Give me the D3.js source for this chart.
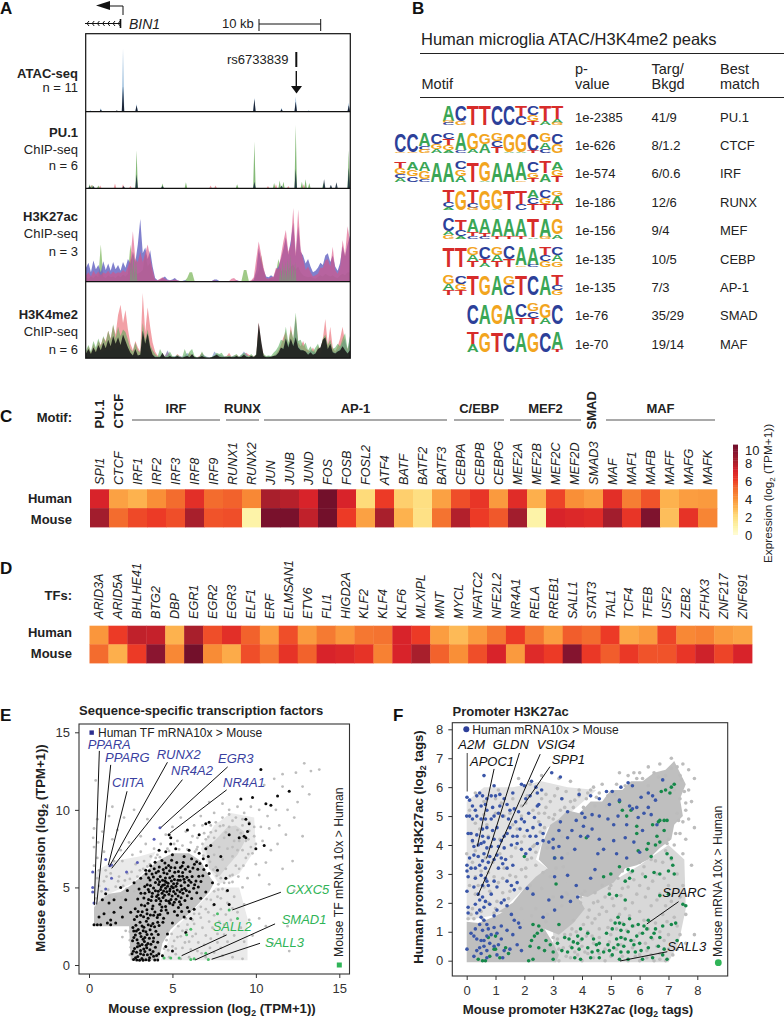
<!DOCTYPE html>
<html lang="en">
<head>
<meta charset="UTF-8" />
<title>Microglia epigenomics panels</title>
<script src="https://unpkg.com/d3@7/dist/d3.min.js"></script>
<style>
  body { margin: 0; background: #fff; }
  svg { display: block; font-family: "Liberation Sans", Arial, sans-serif; fill: #222; }
  .axis text { font-size: 13px; fill: #333; }
  .axis line { stroke: #333; }
  .axis path { display: none; }
</style>
</head>
<body>
<svg id="fig" width="784" height="1020"></svg>
<script>
// ---- panel A: peak lists are [kb, height], wide tracks sampled every 0.4 kb
const atacBlue = [[0.7,2],[2.4,5],[6,100],[8.2,12],[27.3,22],[31.7,6],[34,24],[36.1,2],[42.6,14]];
const atacBlack = [[2.4,3],[5,2],[6,40],[8.2,10],[27.3,20],[31.7,4],[34,16],[42.6,10]];
const pu1Green = [[0.6,6],[1,5],[2,4],[8.2,60],[12.4,7],[16.2,9],[24.5,6],[27.3,74],[30.5,8],[31.4,12],[32,10],[34,100],[35,10],[35.6,14],[36.2,8],[38.5,8],[42.6,60]];
const pu1Red = [[0.9,5],[2.3,4],[4.7,7],[6,6],[7.2,3],[20.2,4],[21,4],[29.5,3],[30.8,6],[32.8,3],[35.3,6]];
const pu1Dark = [[0.6,3],[1.2,3],[6.1,3],[8.2,22],[12.4,3],[27.3,10],[31.7,4],[34,30],[38.6,14],[39.7,5],[40.6,9],[42.6,32]];
const k27Blue = [18,25,12,28,16,22,12,27,15,24,14,26,16,22,14,26,18,30,24,40,26,50,85,38,46,30,42,20,4,1,2,4,6,2,1,2,4,1,0,0,1,0,0,0,0,0,0,0,0,0,0,0,2,2,0,0,0,0,0,0,0,1,0,0,0,0,0,0,2,15,45,28,15,6,5,8,5,15,20,30,44,60,36,55,80,34,75,40,35,24,30,20,12,14,18,25,22,35,38,26,35,20,14,25,48,34,50,62];
const k27Red = [8,12,6,14,9,13,8,12,10,14,9,13,10,12,11,15,12,20,30,68,30,26,40,26,38,50,32,15,2,1,3,5,3,1,1,1,2,1,0,0,0,0,0,0,0,0,0,0,0,0,0,0,1,0,0,0,0,0,0,3,4,1,0,0,0,0,0,1,5,30,54,36,18,4,3,5,6,18,16,35,54,70,40,50,100,38,98,44,30,15,20,12,6,8,10,18,18,28,30,20,47,15,10,20,56,36,75,55];
const k27Green = [5,3,6,4,8,5,50,6,4,8,5,6,4,8,5,9,6,10,50,14,12,10,12,15,38,20,25,8,1,0,1,2,1,0,0,0,1,0,0,0,0,4,12,12,0,0,0,0,0,0,0,0,0,0,0,0,0,0,0,0,0,0,0,0,15,15,0,0,1,8,14,35,12,3,2,4,3,12,30,14,15,14,15,20,22,16,20,12,8,6,5,6,4,3,6,8,6,10,8,6,8,5,4,8,10,8,12,12];
const k27Gray = [[7.3,30],[7.7,40],[8.1,32],[31.5,18],[31.9,28],[32.3,26],[32.7,30],[33.1,36],[33.5,24],[33.9,26]];
const me2Red = [8,18,8,22,12,26,20,32,26,42,30,50,36,66,82,54,74,44,22,12,26,16,10,100,40,78,48,24,10,4,2,2,3,10,5,2,1,6,3,1,2,3,8,4,2,1,3,8,2,1,0,1,2,6,4,3,2,3,8,2,3,5,2,4,6,8,5,4,3,4,55,20,5,2,3,2,4,6,12,20,32,40,18,50,26,64,24,18,26,15,12,10,16,8,18,14,30,60,20,48,16,10,18,30,48,24,14,22];
const me2Green = [12,20,10,26,16,30,18,34,24,42,28,52,30,48,34,44,40,28,14,10,24,12,8,54,28,44,20,12,6,2,14,6,2,4,10,3,2,5,2,1,14,4,10,14,3,1,2,10,3,1,0,2,4,8,6,8,2,3,4,2,4,6,2,5,8,4,3,6,2,6,44,14,6,3,4,3,8,12,18,28,26,48,24,44,30,70,26,28,18,24,12,18,10,16,22,12,30,36,20,28,14,16,22,18,30,38,14,34];
const me2Blue = [6,8,5,10,8,12,8,10,12,14,10,16,12,18,14,12,16,10,6,4,6,4,3,16,12,10,6,4,3,2,3,4,3,12,5,2,3,4,3,2,4,8,3,3,2,1,2,6,4,2,1,1,10,6,5,4,3,2,3,2,4,3,2,5,10,6,2,4,2,3,30,8,3,2,3,2,3,5,8,14,16,30,20,28,20,60,18,14,12,10,8,12,10,8,8,6,14,20,12,14,10,8,12,16,24,30,10,34];
const me2Black = [7,14,6,16,9,20,12,24,15,28,18,34,22,32,20,36,26,16,8,4,14,4,5,42,22,38,16,5,1,1,1,8,1,1,3,1,1,3,1,0,2,3,1,6,1,0,1,3,1,0,0,1,3,5,2,1,1,1,2,1,1,3,1,2,5,2,1,3,1,5,54,26,3,1,1,2,3,4,8,16,14,30,16,30,18,32,16,12,12,10,5,9,5,7,14,16,28,32,14,22,9,7,10,12,18,12,7,12];

// ---- panel B: each column lists letter + share, top to bottom
const motifNames = ["PU.1","CTCF","IRF","RUNX","MEF","CEBP","AP-1","SMAD","MAF"];
const motifP = ["1e-2385","1e-626","1e-574","1e-186","1e-156","1e-135","1e-135","1e-76","1e-70"];
const motifTarg = ["41/9","8/1.2","6/0.6","12/6","9/4","10/5","7/3","35/29","19/14"];
const logos = [
  ["A78 G12 C10","C80 G20","T100","T100","C100","C100","T55 C45","C48 G30 T22","T78 A22","T68 A22 G10"],
  ["C92 G8","C92 G8","A62 C20 G18","C52 G28 A20","C30 T30 G25 A15","A85 C15","G82 A18","G55 A45","G40 C30 T30","G92 A8","G92 A8","C88 T12","G45 A35 C20","C55 G45"],
  ["T32 G30 C18 A20","A40 G32 C28","A48 G40 C12","A100","A100","C38 G32 A30","T100","G95 A5","A98","A98","A92 G8","C52 G28 T20","T58 A42","A40 G30 T30"],
  ["T60 C25 A15","G100","T62 C25 G13","G100","G95 A5","T100","T68 C32","A40 C30 T30","C38 G32 T30","G28 A42 T30"],
  ["C62 A22 G16","T55 C30 A15","A68 T20 C12","A72 T18 C10","A88 T12","A88 T12","A88 T12","T92 A8","A90 G10","G78 A22"],
  ["T100","T100","G38 A30 T32","C60 T22 A18","G40 A30 T30","C62 T38","A92 G8","A88 C12","T40 C30 G30","C40 A32 G28"],
  ["G45 A30 T25","C42 G32 T26","T100","G100","A98","G48 C52","T100","C100","A95","T50 C25 G25"],
  ["C100","A100","G100","A95","C65 T35","G38 C32 T30","G70 A30","C95"],
  ["T62 A38","G100","T100","C100","A100","G100","C100","A85 T15"]
];

// ---- panel C / D heatmaps
const motifGenes = ["SPI1","CTCF","IRF1","IRF2","IRF3","IRF8","IRF9","RUNX1","RUNX2","JUN","JUNB","JUND","FOS","FOSB","FOSL2","ATF4","BATF","BATF2","BATF3","CEBPA","CEBPB","CEBPG","MEF2A","MEF2B","MEF2C","MEF2D","SMAD3","MAF","MAF1","MAFB","MAFF","MAFG","MAFK"];
const motifHuman = [7,3.5,3,4,5,6.5,5,5.2,4.2,8,7.7,7,9.8,7,2,6,2.3,1.8,3.5,5.6,6.2,3.7,6.6,3.1,5.8,4,3.6,6.5,4.5,5.5,3,3.6,3.7];
const motifMouse = [8.2,5,5.7,6,5.6,8,5.5,5.6,0.8,9.6,9.6,7.5,9.8,6,3.5,8,3,1.7,4.8,7.8,6,5.4,8.2,0.8,7,6.8,6.6,8.2,6.2,9.4,2.7,6.3,4.3];
const tfGenes = ["ARID3A","ARID5A","BHLHE41","BTG2","DBP","EGR1","EGR2","EGR3","ELF1","ERF","ELMSAN1","ETV6","FLI1","HIGD2A","KLF2","KLF4","KLF6","MLXIPL","MNT","MYCL","NFATC2","NFE2L2","NR4A1","RELA","RREB1","SALL1","STAT3","TAL1","TCF4","TFEB","USF2","ZEB2","ZFHX3","ZNF217","ZNF691"];
const tfHuman = [3.8,6,7.5,7.4,3,8,5.6,6.5,5.2,3.6,5.6,3.7,4.6,3.8,4.7,4.8,7,6,3.6,2.8,3.7,4.7,6,4.7,3.6,5.3,5,6,3.3,3.7,5.8,4.2,4.4,3.7,3.4];
const tfMouse = [5,3.1,6,9,4.2,9.8,4.1,3.2,5.6,4.8,6.3,5.2,7,6.8,6.3,4.4,7,8,5.2,4,5.6,7,3.7,6.7,6,9.2,6.1,5.3,6.1,5.5,5.5,6.2,7.2,5.8,7];
const heatStops = [0,0.8,2,3,4,5,6,7,8,9,10];
const heatColors = ["#fffbd0","#fdf3a8","#fedb7a","#fdb24e","#f98f37","#f36c2e","#ec3a26","#d8232a","#a81f2c","#8a1530","#6d0f2a"];
const motifGroups = [["IRF",132,220],["RUNX",226,259],["AP-1",264,447],["C/EBP",454,504],["MEF2",510,581],["MAF",606,715]];

// ---- panel E points; clouds are outlines of the too-dense-to-count gray
const eCore = [[0.3,2.5],[2.4,2.5],[2.5,0.3],[4.2,0.3],[4.4,1.4],[4.9,2.3],[5.4,2.8],[6,3.3],[6.6,4],[7.2,4.7],[7.5,5.3],[7.1,5.9],[6.7,6.7],[6,7.2],[5,7.2],[4.1,6.7],[3.3,5.9],[2.6,5.2],[1.9,4.7],[1.2,4.6],[0.7,4.2],[0.3,3.7]];
const eLobe = [[7.2,6.2],[7.8,5.7],[8.4,6.5],[8.9,7.1],[9.3,7.9],[9.3,8.6],[8.8,9],[8.3,8.9],[7.7,8.2],[7,7.5]];
const eSparse = [
  [[4.3,0.3],[9.5,0.3],[9.5,3],[9,5],[7.6,5],[6.5,3.8],[5,2.2]],
  [[0.3,3.7],[0.3,6],[1.5,6.7],[3,7],[4,7.3],[3.3,6],[2.5,5.2],[1.2,4.6]],
  [[6.7,7.5],[7.5,9],[8.5,9.8],[9.9,9.5],[10,7.5],[9,5.9],[7.8,5.2],[7.2,6.2]]
];
const eGray = [[0.4,11.9],[0.5,9.4],[0.3,8.8],[0.25,8.2],[0.3,7.6],[0.55,7.9],[0.8,8.6],[1.2,9.6],[1.4,10.2],[1.7,8.7],[2.1,9.5],[2.7,10],[3.1,8.3],[3.5,9.4],[2.4,7.9],[1.9,7.4],[1.4,8.1],[0.9,7.3],[0.5,6.9],[0.3,6.4],[0.6,6.1],[1,6.1],[1.5,6.7],[2,6.7],[2.6,7.1],[3.1,7.3],[3.4,7.8],[3.9,7.5],[4.3,7.8],[4.6,8.4],[5,8.9],[5.5,9.5],[5.3,8],[5.8,8.6],[6.3,9],[6.7,9.6],[7.2,10.5],[7.5,9.8],[8,10.4],[8.4,10],[8.9,10.2],[9.3,9.8],[9.7,10.2],[10.2,10],[10.7,9.6],[10.5,11.6],[11.1,12],[11.6,12.3],[12.4,12.4],[12.9,13],[13.3,12.5],[13.8,12.6],[12.8,11.5],[13.2,11],[11.6,11.5],[11.2,10],[11.9,10],[12.3,9.5],[12.5,10.5],[11.4,9],[11.8,8.4],[10.8,8.8],[10.3,8.9],[10.4,8],[10.9,7.4],[11.3,7.8],[12.2,6.7],[12.8,8.3],[11.6,6.2],[10.6,6.6],[10,6.5],[10.2,5.8],[10.8,5.2],
[0.5,5.6],[0.9,5.4],[1.3,5.9],[1.8,5.7],[2.3,5.9],[2.8,6.5],[3.3,6.7],[3.7,7],[4.1,7.1],[4.7,7.5],[5.1,7.8],[5.6,7.7],[6.1,7.9],[6.5,8.2],[6.9,8.5],[7.3,9],[7.6,9.2],[8,9.5],[8.4,9.7],[8.8,9.5],[9.2,9.4],[9.6,9.2],[9.9,8.9],[9.9,8.3],[10,7.8],[9.8,7.2],[9.4,6.9],[9,6.2],[8.6,5.8],[8.4,5.3],[8,4.9],[7.7,4.4],[7.3,4.2],[7,3.6],[6.6,3.3],[6.2,2.9],[5.9,2.6],[5.6,2.2],[5.3,1.8],[5,1.2],[5.2,0.7],[5.6,1.1],[6,1.5],[6.4,2],[6.8,2.4],[7.2,2.8],[7.5,3.2],[7.9,3.6],[8.3,4],[8.7,4.4],[9.2,5],[9.5,5.6],[5.5,0.4],[6,0.5],[6.5,0.9],[6.9,1.3],[7.3,1.7],[7.7,2],[8.1,2.6],[8.5,2.9],[8.9,3.4],[9.3,3.9],[7,0.5],[7.5,0.8],[7.9,1.1],[8.3,1.5],[8.7,1.9],[9.1,2.4],[9.6,2.9],[8,0.6],[8.6,0.5],[9.2,0.4],[9.3,1.5],[9.8,1.9],[10.2,3],[10.6,2.5],[11,1.4],[12,0.9],[11.9,2.5],[12.3,4.8],[8.9,8.7],[8.4,8.9],[8.1,8.2],[8.7,8],[9.1,8.5],[9.4,8],[8.9,7.4],[8.3,7.5],[7.8,7.6],[7.5,7.1],[8,6.8],[8.6,7],[7.6,6.3],[8.2,6.2],[7.9,5.6],[7.1,7.6],[7.5,8.2],[7,8.1],[6.5,7.6],[6.2,8.3],[6.8,9],[3.2,4.4],[2.9,5.7],[1.6,4.4],[1.2,3.4],[2,1.8],[2.2,2.2],[3.6,0.5],[4.8,0.5],[4.1,1.8],[4.7,2.2],
[0.4,4.3],[0.75,4.75],[1.15,4.85],[1.6,5.05],[2.05,5.1],[2.45,5.55],[2.85,5.35],[3.25,6.2],[3.65,6.5],[4.25,6.95],[4.8,7.35],[5.4,7.45],[5.9,7.45],[6.35,7.3],[6.85,7.05],[7.25,6.65],[7.45,6.15],[7.65,5.75],[7.75,5.2],[7.5,4.75],[7.05,4.25],[6.7,3.75],[6.3,3.3],[5.8,3],[5.35,2.5],[4.95,2],[4.65,1.6],[4.5,1.05],[4.4,0.6],[4.75,0.95],[5.1,1.55],[5.5,1.85],[5.85,2.25],[6.3,2.65],[6.7,3.05],[7.15,3.4],[7.45,3.85],[7.9,4.3],[8.25,4.75],[8.6,5.35],[8.95,5.7],[9.25,6.4],[9.55,7.15],[9.7,7.6],[9.55,8.1],[9.6,8.65],[9.2,9],[8.6,9.3],[8.05,9],[7.6,8.65],[7.15,8.25],[6.8,7.8],[6.45,7.45],[1.25,4.4],[1.95,4.35],[2.25,4.9],[2.7,4.75],[3.05,5.25],[0.6,5.1],[1.05,5.7],[1.75,5.4],[2.15,5.45],[2.55,6],[3.05,6.1],[3.5,6.35],[4,6.9],[2.65,3.15],[2.45,1.6],[2.5,1.15],[2.45,0.65],[2.45,2.15],[7.75,4.85],[8.1,5.3],[8.45,5.75],[8.8,6.4],[9.2,7.4],[8.6,7.6],[9,8],[8.2,8.55],[7.85,8.95],[7.3,8.55],[5.2,1.05],[5.75,1.45],[6.2,1.85],[6.55,1.45],[7,1.9],[7.4,2.4],[7.8,2.8],[8.2,3.25],[8.6,3.65],[6.1,1],[6.75,0.75],[7.25,1.1],[7.7,1.45],[8.1,1.95]];
const eBlack = [[10.3,12.6],[12,11.2],[11.3,10.9],[10.6,10.4],[10.9,10.3],[9.8,10.8],[9.1,10.7],[10,7.5],[10.5,7.7],[9.4,8.2],[9.3,8.3],[9,8.2],[9.5,8.6],[9.6,9.1],[9.4,9.4],[8.4,8.4],[7.2,9.2],[6.6,8.4],[7,9.1],[5.9,8.7],[7.3,7.7],[7,7.5],[6.6,7.2],[6,7.4],[5.7,7],[5.2,7.5],[5,7.1],[4.8,8.4],[4.9,8.2],
[3.42,5.87],[3.91,6.21],[4.37,6.74],[4.12,5.53],[3.68,5.12],[4.83,6.08],[5.26,6.61],[4.58,5.61],[5.07,5.23],[5.61,5.96],[5.94,6.33],[4.29,4.87],[3.77,4.41],[4.66,4.72],[5.18,4.59],[5.73,5.34],[6.18,5.71],[6.52,6.18],[3.53,3.98],[4.02,4.16],[4.44,4.35],[4.91,4.23],[5.42,4.08],[5.89,4.46],[6.27,4.94],[6.71,5.38],[7.04,6.42],[4.71,5.08],[4.18,5.19],[3.86,5.67],[5.33,5.47],[5.01,5.72],[4.49,5.94],[5.52,5.11],[5.87,5.66],[6.41,5.41],[6.05,6.03],[4.77,6.42],[4.21,6.32],[5.48,6.28],[5.14,5.98],[4.63,5.33],[4.38,4.62],[3.98,4.79],[4.86,4.9],[5.29,4.83],[5.63,4.62],[6.02,4.72],[3.61,4.72],[3.29,4.32],[3.83,3.81],[4.24,3.92],[4.59,3.77],[5.03,3.89],[5.36,3.71],[3.14,3.87],[3.47,3.56],[3.95,3.42],[4.33,3.51],[4.72,3.35],[2.94,3.45],[3.27,3.11],[3.68,3.22],[4.09,3.06],[4.47,3.02],[2.72,2.93],[3.06,2.76],[3.44,2.82],[3.83,2.67],[4.2,2.55],[2.63,2.41],[2.95,2.29],[3.29,2.44],[3.66,2.28],[4.01,2.17],[2.78,1.94],[3.12,1.83],[3.48,1.96],[3.87,1.74],[2.61,1.56],[2.94,1.41],[3.32,1.52],[3.71,1.33],[4.12,1.46],[2.73,1.07],[3.09,0.93],[3.46,1.12],[3.84,0.87],[2.58,0.72],[2.92,0.55],[3.27,0.66],[3.63,0.47],[4.05,0.61],[2.67,0.35],[3.03,0.31],[3.41,0.34],[3.94,0.32],
[4.52,5.18],[4.94,5.41],[5.21,5.07],[4.41,5.47],[4.84,5.62],[5.41,5.72],[5.69,5.52],[3.98,5.31],[4.27,5.71],[4.68,5.88],[5.12,5.51],[4.33,5.02],[4.79,4.56],[5.07,4.74],[4.53,4.49],[4.14,4.53],[3.87,4.97],[4.45,6.15],[4.91,6.29],[5.36,6.02],[5.78,6.17],[6.23,6.25],[4.02,5.94],[3.66,5.48],[3.49,5.18],[5.57,4.86],[5.95,5.12],[6.33,5.17],[6.58,5.72],[5.73,4.93],[5.34,4.44],[4.98,4.44],[4.62,4.15],[4.19,4.29],[3.72,4.16],[4.84,3.98],[5.21,4.24],[4.37,3.74],[3.79,3.62],[3.57,4.22],[3.34,3.82],[4.14,3.23],[3.54,3.02],[3.19,3.44],[2.87,3.12],[2.81,2.56],[3.18,2.52],[3.55,2.59],[3.93,2.47],[3.41,2.14],[3.06,2.05],[2.69,1.77],[3.24,1.66],[3.62,1.72],[3.04,1.24],[3.53,1.38],[2.85,0.82],[3.35,0.87],[3.72,0.71],[2.79,0.47],[3.17,0.42],
[0.3,2.6],[0.5,2.6],[0.7,2.6],[1.1,2.7],[1.3,2.9],[1.6,2.7],[1.3,2.6],[0.6,3.1],[0.9,3.3],[1.5,3.4],[2,3.1],[1.9,3.7],[1.2,4],[0.8,4.2],[1,4.6],[1.5,4.2],[2.2,4.2],[2.5,3.4],[2.3,4.8],[2.7,5.3],[1.9,5],[3,4.9],[3.1,5.6],[3.7,6.4],[3.4,6.1],[4.2,7.4],[4.6,7.3],[4.9,7.8],
[5.5,3.9],[5.9,3.7],[6.3,3.6],[5.3,3.2],[5.7,3.1],[6.1,3],[7,4.7],[6.7,4.3],[7.4,5.3],[7.7,6.1],[7.2,5.9],[7.9,7],[8.2,5.6],[8.3,4.8],[5,2.7],[4.7,2],[5.8,2.1],[5,0.9],[4.6,1.2],[4.4,0.6],[7.5,3.9],[8.4,3.9],[6.85,6.85],[7.15,7],[6.45,6.65],[6.15,6.85],[5.65,6.6],[4.95,6.75],
[4.55,5.42],[4.74,5.27],[4.95,5.06],[4.42,5.14],[4.23,5.36],[5.28,5.26],[5.47,5.46],[5.05,4.98],[4.59,4.95],[4.15,4.76],[4.47,4.77],[4.84,4.77],[5.45,4.72],[5.83,4.8],[6.11,5.34],[5.99,5.47],[5.61,5.72],[5.15,6.27],[4.62,6.27],[4.16,6.04],[3.78,5.87],[3.57,5.63],[3.34,5.06],[3.55,4.87],[3.8,4.62],[4.05,4.41],[4.3,4.12],[4.78,4.11],[5.11,4.05],[5.52,4.33],[5.75,4.15],[6.15,4.28],[6.46,4.66],[6.55,5.02],[6.82,5.75],[6.88,6.15],[6.65,6.55],[6.32,6.5],[5.58,6.38],[4.55,6.58],[3.96,6.62],[3.62,6.08],[3.11,4.63],[2.92,4.25],[3.35,4.63],[3.48,3.3],[3.1,3.2],[2.77,3.62],[3.87,3.21],[4.25,3.26],[4.62,3.55],[5.12,3.45],[5.55,3.45],[6,3.45],[2.84,2.19],[3.25,2.2],[3.72,2.53],[4.12,2.76],[4.43,2.75],[2.68,2.19],[3.35,1.77],[3.75,1.98],[4.15,1.97],[2.88,1.62],[3.18,1.32],[3.43,1.28],[3.85,1.51],[2.9,1.18],[3.28,1.03],[3.65,0.98],[3.98,1.15],[2.66,0.88],[3.09,0.73],[3.5,0.66],[3.87,0.56],[4.18,0.73],[2.86,0.33],[3.24,0.3],[3.6,0.31],[4.12,0.33]];
const eBlue = [[0.16,14.98],[0.22,5],[0.22,4.7],[0.3,4],[0.22,6],[1,6.8],[1.25,6.4],[1.35,6.45],[1,4.9],[1.35,5.6],[2.25,6],[2.9,6.6],[3.9,8.1],[4.25,8.85]];
const eGreen = [[15,0],[8.4,3.55],[6.1,2.3],[5.85,1.95],[7,0.75],[4.5,0.45],[4.9,0.45],[5.4,0.45],[6.1,0.35],[6.3,0.4],[7.15,0.35],[7.7,3.3],[8.9,3]];
const eLeadersBlue = [[0.62,13.8,0.32,3.87],[1.3,12.9,0.46,3.9],[2.28,11.2,1.16,6.45],[4.7,13.07,1.22,6.35],[5.6,11.95,1.36,6.23],[8.31,12.77,4.31,8.86],[8.25,11.29,4.85,8.5]];
const eLeadersGreen = [[11.5,4.69,8.59,3.55],[8.25,1.94,5.55,0.6],[11.15,2.65,6.35,0.32],[10.25,1.4,7.35,0.37]];

// ---- panel F points, [mouse, human]
const fCores = [
  [[2.6,4],[2.9,4.7],[3.2,4.9],[3.5,5.2],[3.9,5.1],[4.3,5.5],[4.7,5.5],[5,5.9],[5.4,5.9],[5.7,6.2],[6.1,6.2],[6.5,6.5],[6.9,6.6],[7.2,6.9],[7.4,6.5],[7.6,6.1],[7.4,5.6],[7.5,5],[7.2,4.7],[7.1,4.2],[6.7,3.9],[6.3,3.5],[5.9,3.3],[5.5,3.2],[5.1,2.7],[4.7,2.5],[4.2,2.2],[3.7,2.3],[3.3,2.7],[2.9,3.1],[2.5,3.5]],
  [[0,-0.05],[0,1.35],[0.4,1.3],[0.9,1.5],[1.3,1.7],[1.8,1.5],[2.3,1.4],[2.7,1.1],[3,0.6],[3.2,0.2],[3.1,-0.05]],
  [[1.1,1.7],[1.6,2],[2,2.5],[2.4,2.9],[2.8,3.2],[3.3,2.9],[3.8,2.3],[4.1,1.8],[3.7,1.3],[3.2,0.9],[2.7,1.1],[2.1,1.4]]
];
const fSparseLow = [[3,-0.05],[3,1],[4,2.2],[5,2.7],[6,3.3],[7,4],[7.55,3.5],[7.6,1.8],[7.35,0.6],[7,-0.05]];
const fSparseLeft = [[0,1.4],[0,5.5],[0.6,6],[1.6,6],[2.6,6.2],[3.5,6],[4.5,5.9],[3.7,5.2],[2.8,4.6],[2.4,3.5],[2.8,3.2],[2,2.5],[1.1,1.6]];
const fGray = [[1.8,6.3],[2.2,6.1],[2.6,6.4],[3.2,6.3],[3.6,6.2],[3.9,5.9],[4.3,5.9],[4.7,6.1],[5.3,6.5],[5.6,6.4],[6,6.5],[6.3,6.7],[6.7,6.8],[7.1,7],[7.3,6.7],[7.5,6.8],[7.7,6.6],[7.9,6.3],[7.7,5.9],[7.6,5.2],[7.5,4.8],[7.4,4.4],[7.2,4],[7.5,3.7],[7.1,3.5],[6.8,3.4],[7.3,3],[6.6,3],[6.1,3],[5.8,2.8],[5.4,2.5],[5.9,2.3],[6.3,2.5],[6.7,2.3],[7,2.6],[7.4,2.2],[4.8,2.2],[4.4,2],[5.1,1.9],[5.5,1.8],[6,1.7],[6.4,1.9],[6.8,1.6],[7.2,1.5],[7.6,1.6],[4.2,1.5],[4.6,1.6],[5,1.4],[5.4,1.3],[5.8,1.2],[6.3,1.1],[6.7,1],[7,0.9],[7.4,0.9],[3.4,0.9],[3.8,1],[4.2,1],[4.6,1.1],[5,0.9],[5.4,0.8],[5.8,0.7],[6.2,0.6],[6.6,0.5],[7,0.4],[7.3,0.4],[3.2,0.4],[3.6,0.5],[4,0.5],[4.4,0.6],[4.8,0.4],[5.2,0.4],[5.6,0.3],[6,0.2],[6.4,0.2],[3.2,0],[3.6,0.1],[4,0],[4.4,0.1],[4.8,0],[5.6,0],[6,0],[6.5,0],[6.9,0],
[0.3,2.9],[0.2,4.1],[0.7,4.7],[1.1,5.9],[1,5.1],[1.6,5.6],[1.9,5],[2,4.3],[2.3,5.2],[2.6,5.6],[2.9,5.5],[1.4,4.4],[1.7,3.9],[2.1,3.5],[1.3,3.2],[0.9,3.4],[0.5,3.1],[0.3,2.3],[0.2,1.8],[1.1,2.7],[1.7,2.9],[2.2,2.6],[2.6,2.5],[3,2.2],[3.3,1.9],[3.7,1.4],[2.4,1.8],[2.8,1.6],[1.9,1.8],[3.2,1.2],[3.6,0.9],[4.1,2.4],[2.8,3.9],[2.5,4.8],[3.3,5.6],[3.9,5.7],[4.6,5.8],[5.2,6.1],[5.8,6.5],[6.5,6.5],[0.5,1.7],[1,1.8],[1.4,1.9],[2.7,0.9],[3,0.8],[4.1,0.3],[7.2,5.9],[7.4,5.6],[7.8,5.5],[7.3,5.1],[7.7,4.9],[7,4.2],[6.9,3.8],[6.4,3.5],[6,3.4],[5.4,3.1],[5,2.6],[4.7,2.6],[4,2.3],[3.5,2.3],[2.9,2.9],[2.4,3.3],[7.5,2.6],[7.8,3.3],[7.6,4.2],[7.9,4.6],[6.5,4],[6.9,1.9],[7.3,1.2],[7.6,0.6],[7.9,0.9],[3.5,3.7],[3.3,4.3],[3.6,5.5],[4.2,5.8],[4.9,5.7],[4.4,6],[6.9,6.4],[7.4,6.4],[6.1,6.3],[5.7,6],[0.1,2.6],[0,3.7],[0.4,3.6],[0.8,2.4],[1.5,2.4],[0.1,4.4],[0.1,5.2],[0.3,5.8],[0.6,5.5],[1,5.6],[1.3,5],[1.6,4.7],[2.3,4.6],[2.1,5.7],[3,4.9],[2.7,5.1],
[3.25,5.2],[2.85,4.95],[2.55,4.45],[2.35,4],[2.25,3.55],[2.65,3.05],[3.1,3.2],[3.45,2.35],[3.95,2.2],[4.45,2.35],[4.95,2.5],[5.25,2.85],[5.7,3.05],[6.15,3.25],[6.55,3.45],[6.95,4.05],[7.25,4.4],[7.35,4.85],[7.6,5.45],[7.55,5.85],[7.45,6.25],[7.1,6.65],[6.65,6.35],[6.3,6.05],[5.9,6.3],[5.5,6.05],[5.15,5.75],[4.85,5.35],[4.45,5.35],[4.05,5.3],[3.7,5.3],[3.4,5.3],[3.05,5.05],[2.7,4.6],[2.4,3.75],[3.35,3.25],[2.05,2.9],[1.85,2.5],[1.45,2.15],[1.25,2.35],[1.05,2.05],[0.75,2],[0.55,1.45],[0.25,1.45],[0.05,1.45],[0.15,1.6],[0.95,1.65],[2.25,1.55],[2.75,1.35],[3.15,0.75],[3.35,0.45],[3.1,0.25],[3.45,0.15],[3.75,0.3],[3.95,0.7],[4.15,0.85],[3.65,1.1],[4.05,1.25],[4.35,1.3],[4.25,1.75],[3.95,2],[4.55,2.05],[4.7,1.85],[5.05,2.15],[5.35,2.25],[5.6,2.55],[6,2.6],[6.45,2.75],[6.85,2.85],[5.75,2],[6.2,2.2],[6.6,2.1],[7.1,2.05],[4.85,1.7],[5.3,1.6],[5.65,1.55],[6.15,1.4],[6.55,1.3],[6.95,1.35],[4.45,1.45],[4.9,1.15],[5.2,1.1],[5.55,1.05],[6,0.95],[6.45,0.75],[6.85,0.7],[4.35,0.85],[4.6,0.8],[4.95,0.65],[5.35,0.55],[5.75,0.45],[6.25,0.35],[6.7,0.25],[7.15,0.2],[3.85,0.2],[4.2,0.25],[4.6,0.25],[5,0.15],[5.4,0.15],[5.85,0.15],[6.25,0.1],[6.7,0.05],[0.4,2.6],[0.6,2.55],[0.95,2.9],[1.25,2.85],[1.5,2.95],[1.9,3.15],[2.05,3.2],[0.75,3.05],[1.55,3.6],[1.15,3.7],[0.65,3.55],[0.3,3.8],[0.2,3.4],[2.3,3.95],[1.9,4.1],[1.75,4.55],[1.15,4.2],[0.75,4.3],[0.45,4.55],[0.3,4.75],[0.6,5.05],[1.2,5.45],[1.5,5.1],[1.9,5.35],[2.05,5.45],[2.5,5.1],[2.75,5.3],[2.75,5.75],[3.05,5.7],[3.15,5.95],[3.45,5.85],[3.75,5.55],[4.15,5.6],[4.5,5.65]];
const fBlue = [[0.01,5.65],[0.1,5.55],[0.3,5.2],[0.35,5.7],[0.45,5.8],[0.55,5.7],[0.6,6.4],[0.65,5.4],[0.7,5.6],[0.85,5.7],[0.5,5.35],[0.7,5.2],[0.9,5.3],[0.95,6.05],[1,5.7],[1.15,5.75],[1.3,5.6],[1.4,5.4],[1.5,5.2],[1.65,5.25],[1.6,5.8],[1.9,6.1],[2.05,5.6],[2,6.05],[2.2,5.7],[2.25,6.2],[2.45,5.8],[2.4,6],[2.45,5.35],[2.5,5.4],[2.6,5.9],[2.95,6.5],[3.25,6.35],
[0,5],[0.1,5],[0.2,4.9],[0.35,5],[0.5,4.9],[0.65,4.9],[0.85,4.9],[0.95,5],[1.1,5.1],[1.25,5],[1.45,4.9],[1.7,4.8],[1.9,4.9],[2,4.8],[2.1,4.5],[2.3,4.6],[2.55,4.7],[2.65,4.4],[2.4,4.3],[2.2,4.3],[2.45,4.05],[2.65,4.15],[2.85,4.1],[3,4.2],[3,3.9],[3.2,3.95],[3.2,4.5],[1.5,4.6],[1.6,4.3],[1.4,4.4],[1.3,4.3],[1.05,4.6],[0.9,4.5],[0.7,4.6],[0.55,4.55],[0.35,4.35],[0.15,4.4],[0.05,4.4],
[0.4,4],[0.5,4.05],[0.6,4.1],[0.7,3.9],[0.85,3.95],[0.95,4.2],[1.1,3.95],[1.3,3.9],[1.55,4],[1.75,4.05],[1.9,3.85],[2.05,3.7],[2.2,3.85],[0.1,3.55],[0.25,3.65],[0.4,3.6],[0.6,3.7],[0.8,3.6],[0.95,3.5],[1.05,3.65],[1.2,3.55],[1.35,3.5],[0.15,3.2],[0.3,3.2],[0.45,3.3],[0.65,3.2],[1.1,3.2],[1.4,3.2],[1.6,3.3],[0.01,3.3],[0.01,3.1],[0.05,2.9],[0.3,2.85],[0.5,2.95],[0.65,2.85],[0.7,2.75],[0.75,2.6],[0.95,2.75],[1.05,2.55],[1.4,2.75],[1.55,2.6],[1.65,2.45],[1.75,2.7],[2.1,2.5],[2.3,2.3],[0.25,2.55],[0.01,2.4],
[0.4,2.3],[0.45,2.1],[0.55,2.2],[0.65,2.05],[0.6,1.85],[0.45,1.75],[0.35,1.65],[0.5,1.5],[0.6,1.4],[0.45,1.25],[0.7,1.25],[0.75,1.1],[0.95,1.15],[1.2,2],[1.3,2.1],[1.4,1.9],[1.55,1.6],[1.65,1.4],[1.8,1.3],[1.85,1.15],[0.05,1.85],[0.05,1.65],[0.15,0.95],[0.25,0.85],[0.35,0.75],[0.5,0.7],[0.6,0.7],[0.7,0.85],[0.8,0.6],[0.95,0.5],[0.85,0.9],[1.05,0.95],[1.2,0.75],[0.45,0.45],[0.6,0.5],[0.7,0.35],[0.5,0.25],[0.35,0.35],[0.7,0.1],[1.3,0.35],[1.25,0.1],[1.5,0.4],[0.01,0.4],
[3.3,5.6],[3.9,5.75],[4,5.1],[4.3,5.7],[4.6,5.6],[4.85,5.85],[5.05,5.85],[5.35,6],[5.6,6.15],[5.75,6.05],[6.05,5.65],[6.3,5.8],[6.45,5.7],[6.55,5.55],[6.8,6.25],[5.9,5.3],[5.75,5.25],[5.65,5.35],[5.25,5],[4.95,5.4],[4.6,5],[4.35,5.05],[4.1,4.95],[3.8,4.85],[3.5,5.15],[3.25,4.8],[3.65,4.5],[3.95,4.3],[4.2,4.3],[4.6,4.2],[5.1,4.15],[5.5,4.25],[5.8,4.1],[6.3,5.3],[6.6,4.7],[6,3.75],[5.2,3.7],[4.75,3.85],[3.05,3.55],[4.45,3.15],[4.3,2.85],[3.8,2.6],[3.5,2.95],[3.3,2.2],[2.85,2.1],[2.65,1.5],[3.05,1.75],[3.85,2.2],
[0.2,4.15],[0.55,4.3],[0.75,4.25],[1.2,4.15],[1.75,4.3],[1.85,4.55],[0.25,3.95],[0.75,3.4],[1.25,3.35],[0.55,3.45],[0.2,5.35],[1.15,5.35],[1.8,5.15],[2.15,5.1],[2.35,4.95],[0.85,2.3],[0.55,2.6],[0.3,1.95],[0.8,1.95],[0.95,1.55],[1.05,1.75],[0.3,1.1],[0.55,1.05],[1.2,1.2],[1.4,1.05],[1.6,0.9],[1.1,0.55],[1.75,0.55],[1.9,0.35],[0.25,0.15],[1.05,0.2],[4.9,4.9],[5.1,4.7],[5.55,4.7],[5.95,4.95],[6.15,5.1],[6.4,5.05],[6.1,4.5],[5.3,5.55],[4.35,4.55],[4.05,4.65],[3.5,4.25],[3.3,3.55],[3.75,3.85],[4.55,3.7],[5.55,3.55],[3.05,2.9],[3.6,2.05]];
const fGreen = [[6.95,4.85],[6.85,4.85],[6.7,4.85],[6.65,4.8],[7.1,6],[7.2,6.1],[7.05,5.8],[6.75,5.85],[6.9,5.9],[5.7,5.2],[5.55,5],[5.4,5.2],[5.3,5.5],[5.9,4.65],[5.9,4.4],[6.45,4.7],[6.85,4.5],[6.6,4.3],[6.7,4.1],[6.55,4],[6.3,4.05],[6.25,3.85],[5.95,3.8],[6.4,3.6],[7.1,3.55],[6.95,3.7],[7.15,3.3],[7,3.1],[7.2,3],[6.7,3],[6.5,3.05],[6.2,2.9],[5.75,3.1],[5.6,3.15],[5.3,3.25],[5.65,2.85],[5.5,2.75],[5,3],[4.75,2.9],[4.95,2.3],[5.2,2.25],[5.5,2.1],[7.5,1.95],[6.7,2.25],[7,2.3],
[1,0.4],[1.35,0.45],[0.4,0.05],[0.55,0],[0.65,0],[0.8,0.15],[0.95,0.4],[1.15,0.1],[1.45,0.25],[1,0.85],[0.75,0.8],[2.3,1.25],[2.5,1.2],[2.6,1.05],[2.35,0.85],[2.25,0.7],[2.2,0.5],[2.5,0.45],[2.7,0.35],[3,0.3],[3.3,0.35],[3,0.05],[2.3,0.05],[2.15,0],[3.4,0.8],[3.55,0.75],[3.7,0.65],[3.85,0.6],[4,0.75],[3.9,0.4],[3.5,0.3],[3.75,0.1],[3.95,0.05],[4.2,0.45],[4.35,0.3],[4.55,0.35],[4.75,0.3],[4.9,0.55],[4.95,0.35],[5.1,0.45],[5.2,0.75],[5.35,0.8],[4.85,0.95],[5.05,1.1],[5.15,1.3],[5.3,1.3],[5.45,1.25],[5.6,1],[5.75,1.2],[5.5,0.75],[5.7,0.7],[5.8,0.55],[6,0.6],[6.05,0.35],[5.6,0.3],[5.35,0.3],[5.3,0.05],[5.6,0.05],[6.1,0.05],[6.45,0.1],[6.8,0.2],[6.85,0.4],[6.65,0.5],[6.4,0.8],[6.1,0.95],[5.95,1.25],[6.15,1.2],[6.25,1.1],[6.55,1.1],[6.5,0.95],[6.95,0.05],[7.25,1.3],[7.1,1.25],[7.3,0.7],[7.6,1.9],[2,3.6],[3.05,3.55],[4.15,4.25],[3.1,2.65],[3.95,1.1],[3.2,1.25],
[4.4,0.75],[4.6,0.6],[5.25,0.55],[5.45,0.5],[5.9,0.85],[4.3,0.1],[4.6,0.1],[2.75,0.7],[2.9,0.55],[3.15,0.6],[3.65,0.45],[3.85,0.85],[2.45,0.95],[4.2,0.95],[5.25,1.5],[5.65,1.45],[6.3,1.4],[6.8,1.2],[5.35,1.05],[6.7,0.8],[5.85,0.3],[6.3,0.45],[5.05,0.2],[4.5,0.55]];
const fLeadersBlack = [[0.95,6.63,0.37,3.95],[1.83,7.18,0.69,3.54],[2.55,7.14,0.38,2.24],[2.89,6.71,1.94,5.33],[7.35,2.04,6.25,1.27],[6.96,0.31,5.32,-0.01]];
const fLeaderGray = [[0.02,7.18,0.02,5.85]];

// ---- shared bits
const svg = d3.select("#fig");
const blueText = "#3a3f9f", greenText = "#2fb457", dark = "#222";

function txt(x, y, s, o = {}) {
  const t = svg.append("text").attr("x", x).attr("y", y)
    .style("font-size", (o.size || 13) + "px")
    .style("font-weight", o.bold ? "bold" : "normal")
    .style("font-style", o.italic ? "italic" : "normal")
    .style("fill", o.fill || dark)
    .attr("text-anchor", o.anchor || "start");
  if (o.rotate) t.attr("transform", `rotate(-90 ${x} ${y})`);
  t.text(s);
  return t;
}
// text with a "2" subscript in the middle
function subTxt(x, y, a, b, o) {
  const t = txt(x, y, a, o);
  t.append("tspan").attr("dy", 3).style("font-size", (o.size * 0.66) + "px").text("2");
  t.append("tspan").attr("dy", -3).text(b);
  return t;
}
function seg(x1, y1, x2, y2, stroke = "#111", w = 1) {
  svg.append("line").attr("x1", x1).attr("y1", y1).attr("x2", x2).attr("y2", y2)
    .attr("stroke", stroke).attr("stroke-width", w);
}

// panel letters
[["A",0,14],["B",412,14],["C",0,422],["D",0,574],["E",0,721],["F",393,721]]
  .forEach(d => txt(d[1], d[2], d[0], { size: 17, bold: true, fill: "#111" }));

// ---- A
const kb = d3.scaleLinear().domain([0, 42.8]).range([86, 350]);
const tracks = [
  { top: 34, base: 111.5, h: 63 }, { top: 112, base: 188, h: 63 },
  { top: 188, base: 281, h: 73 }, { top: 281, base: 358, h: 65 }
];
function peakArea(list, tr, color, op) {
  const y = d3.scaleLinear().domain([0, 100]).range([tr.base, tr.base - tr.h]);
  const w = 0.2;
  const pts = list.flatMap(p => [[p[0] - w, 0], [p[0], p[1]], [p[0] + w, 0]]);
  svg.append("path").attr("fill", color).attr("fill-opacity", op)
    .attr("d", d3.area().x(d => kb(d[0])).y0(tr.base).y1(d => y(d[1]))(pts));
}
function wideArea(vals, tr, color, op) {
  const y = d3.scaleLinear().domain([0, 100]).range([tr.base, tr.base - tr.h]);
  const x = d3.scaleLinear().domain([0, vals.length - 1]).range([86, 350]);
  svg.append("path").attr("fill", color).attr("fill-opacity", op)
    .attr("d", d3.area().x((d, i) => x(i)).y0(tr.base).y1(d => y(d))(vals));
}
peakArea(atacBlue, tracks[0], "#8fb6d8", 0.9);
peakArea(atacBlack, tracks[0], "#141a2a", 0.95);
peakArea(pu1Red, tracks[1], "#e8707a", 0.7);
peakArea(pu1Green, tracks[1], "#6fae5f", 0.85);
peakArea(pu1Dark, tracks[1], "#1d3040", 0.9);
wideArea(k27Green, tracks[2], "#80b860", 0.75);
wideArea(k27Blue, tracks[2], "#6a6ac4", 0.85);
wideArea(k27Red, tracks[2], "#dc5080", 0.6);
peakArea(k27Gray, tracks[2], "#8a8a82", 0.95);
wideArea(me2Red, tracks[3], "#ee8088", 0.75);
wideArea(me2Blue, tracks[3], "#7088c0", 0.6);
wideArea(me2Green, tracks[3], "#5cae5c", 0.6);
wideArea(me2Black, tracks[3], "#1c1c1c", 0.9);

svg.append("rect").attr("x", 85.7).attr("y", 33.7).attr("width", 264.6).attr("height", 324.5)
  .attr("fill", "none").attr("stroke", "#111").attr("stroke-width", 1.2);
[111.7, 188.3, 281.7].forEach(y => seg(85.7, y, 350.3, y, "#111", 1.2));

// gene model and scale bar
seg(85, 23.5, 120, 23.5, "#111", 1.2);
d3.range(87, 120, 5.2).forEach(x => {
  svg.append("path").attr("d", `M${x + 2},21 L${x},23.5 L${x + 2},26`).attr("fill", "none").attr("stroke", "#111");
});
seg(120.5, 19, 120.5, 28, "#111", 1.6);
seg(123, 6, 123, 15, "#111", 1);
seg(123, 6, 108, 6, "#111", 1);
svg.append("path").attr("d", "M96,5.5 L110,1 L110,10 Z").attr("fill", "#111");
txt(129, 29, "BIN1", { size: 14, italic: true });
txt(222, 28, "10 kb", { size: 13 });
seg(259, 24, 320.7, 24); seg(259, 19, 259, 31); seg(320.7, 19, 320.7, 31);
txt(227, 64, "rs6733839", { size: 13 });
seg(296.3, 52, 296.3, 67, "#111", 2);
seg(296.3, 71, 296.3, 88, "#111", 1.4);
svg.append("path").attr("d", "M291,86 L302,86 L296.5,93.5 Z").attr("fill", "#111");

[["ATAC-seq",78,1],["n = 11",92,0],["PU.1",137,1],["ChIP-seq",154,0],["n = 6",170,0],
 ["H3K27ac",221,1],["ChIP-seq",238,0],["n = 3",256,0],["H3K4me2",319,1],["ChIP-seq",336,0],["n = 6",354,0]]
  .forEach(d => txt(78, d[1], d[0], { size: 13, bold: !!d[2], anchor: "end" }));

// ---- B
txt(421, 45, "Human microglia ATAC/H3K4me2 peaks", { size: 16.5 });
seg(420, 53.5, 784, 53.5, "#222", 1.1);
seg(420, 97.5, 784, 97.5, "#222", 1.1);
[["Motif",421.5,89],["p-",575,74],["value",575,89],["Targ/",651.5,74],["Bkgd",651.5,89],["Best",720,74],["match",720,89]]
  .forEach(d => txt(d[1], d[2], d[0], { size: 14.5 }));

const logoColor = { A: "#3aa655", C: "#2c4099", G: "#f2a51e", T: "#d72c2a" };
const colW = 12.07, logoH = 20;
logos.forEach((cols, r) => {
  const bottom = 125 + 28.4 * r;
  const right = 563.3;
  cols.forEach((col, c) => {
    const parts = col.split(" ").map(s => ({ l: s[0], v: +s.slice(1) }));
    let y = bottom - logoH * d3.sum(parts, p => p.v) / 100;
    const x = right - colW * (cols.length - c);
    parts.forEach(p => {
      const h = logoH * p.v / 100;
      const t = svg.append("text").style("font-size", "20px").style("font-weight", "bold")
        .style("fill", logoColor[p.l]).text(p.l);
      const len = t.node().getComputedTextLength();
      t.attr("transform", `translate(${x},${y + h}) scale(${colW / len},${h / (0.71 * 20)})`);
      y += h;
    });
  });
  const by = 121.5 + 28.4 * r;
  txt(575, by, motifP[r], { size: 13 });
  txt(651.5, by, motifTarg[r], { size: 13 });
  txt(720, by, motifNames[r], { size: 13 });
});

// ---- C, D
const heat = d3.scaleLinear().domain(heatStops).range(heatColors);
function heatmap(genes, rows, x0, x1, y0, y1, geneBottom) {
  const x = d3.scaleBand().domain(genes).range([x0, x1]);
  const y = d3.scaleBand().domain(d3.range(rows.length)).range([y0, y1]);
  rows.forEach((row, r) => {
    svg.append("g").selectAll("rect").data(row).join("rect")
      .attr("x", (d, i) => x(genes[i])).attr("y", y(r))
      .attr("width", x.bandwidth() + 0.4).attr("height", y.bandwidth() + 0.4)
      .attr("fill", d => heat(d));
  });
  genes.forEach(g => txt(x(g) + x.bandwidth() / 2 + 4.5, geneBottom, g, { size: 12.6, italic: true, rotate: true }));
}
heatmap(motifGenes, [motifHuman, motifMouse], 90, 717, 489.3, 527, 485);
heatmap(tfGenes, [tfHuman, tfMouse], 89.5, 752, 625.7, 663, 619);

txt(72, 422, "Motif:", { bold: true, anchor: "end" });
txt(72, 600, "TFs:", { bold: true, anchor: "end" });
[[502.7, "Human"], [524, "Mouse"], [637, "Human"], [658, "Mouse"]]
  .forEach(d => txt(72, d[0], d[1], { bold: true, anchor: "end" }));
[["PU.1",103.5,428.5],["CTCF",123,428.5],["SMAD",596,429.5]]
  .forEach(d => txt(d[1], d[2], d[0], { bold: true, rotate: true, size: 13 }));
motifGroups.forEach(g => {
  txt((g[1] + g[2]) / 2, 413, g[0], { bold: true, anchor: "middle" });
  seg(g[1], 420, g[2], 420, "#555", 1.1);
});

// colour bar
const barY = d3.scaleLinear().domain([0, 8]).range([535, 463]);
svg.append("g").selectAll("rect").data(d3.range(0, 10, 0.25)).join("rect")
  .attr("x", 733).attr("width", 5)
  .attr("y", d => barY(d + 0.25) - 0.4).attr("height", 2.65)
  .attr("fill", d => heat(d));
[0, 2, 4, 6, 8].forEach(v => txt(745, barY(v) + 4.5, v, { size: 13 }));
txt(745, 454.5, "10", { size: 13 });
subTxt(772, 563, "Expression (log", " (TPM+1))", { size: 11.8, rotate: true });

// ---- scatter panels
function scatterFrame(box, xDom, yDom, ticks, labelRight) {
  const x = d3.scaleLinear().domain(xDom.d).range(xDom.r);
  const y = d3.scaleLinear().domain(yDom.d).range(yDom.r);
  svg.append("g").attr("class", "axis").attr("transform", `translate(0,${box.b})`)
    .call(d3.axisBottom(x).tickValues(ticks).tickSize(4).tickPadding(6).tickFormat(d3.format("d")));
  svg.append("g").attr("class", "axis").attr("transform", `translate(${box.l},0)`)
    .call(d3.axisLeft(y).tickValues(ticks).tickSize(4).tickPadding(labelRight).tickFormat(d3.format("d")));
  return { x, y };
}
function drawBox(box) {
  svg.append("rect").attr("x", box.l).attr("y", box.t).attr("width", box.r - box.l).attr("height", box.b - box.t)
    .attr("fill", "none").attr("stroke", "#333").attr("stroke-width", 1.1);
}
function blobs(list, s, fill) {
  list.forEach(p => {
    svg.append("path").attr("fill", fill)
      .attr("d", d3.line().x(d => s.x(d[0])).y(d => s.y(d[1])).curve(d3.curveLinearClosed)(p));
  });
}
function dots(list, s, r, fill) {
  svg.append("g").selectAll("circle").data(list).join("circle")
    .attr("cx", d => s.x(d[0])).attr("cy", d => s.y(d[1])).attr("r", r).attr("fill", fill);
}
function leaders(list, s, stroke, w) {
  list.forEach(d => seg(s.x(d[0]), s.y(d[1]), s.x(d[2]), s.y(d[3]), stroke, w));
}

// E
const boxE = { l: 79, r: 349.5, t: 724, b: 974 };
const sE = scatterFrame(boxE, { d: [0, 15], r: [89, 339.3] }, { d: [0, 15], r: [965, 732.3] }, [0, 5, 10, 15], 5);
blobs(eSparse, sE, "#eaeaea");
blobs([eCore], sE, "#c2c2c2");
blobs([eLobe], sE, "#d4d4d4");
dots(eGray, sE, 1.4, "#bdbdbd");
dots(eBlack, sE, 1.5, "#0a0a0a");
dots(eBlue.slice(1), sE, 1.5, "#5a5fb8");
svg.append("g").selectAll("rect").data(eBlue.slice(0, 1)).join("rect")
  .attr("x", d => sE.x(d[0]) - 2.2).attr("y", d => sE.y(d[1]) - 2.2).attr("width", 4.4).attr("height", 4.4).attr("fill", "#2d2f8f");
dots(eGreen.slice(1), sE, 1.5, "#4bbd6a");
svg.append("g").selectAll("rect").data(eGreen.slice(0, 1)).join("rect")
  .attr("x", d => sE.x(d[0]) - 2.5).attr("y", d => sE.y(d[1]) - 2.5).attr("width", 5).attr("height", 5).attr("fill", "#2fb457");
leaders(eLeadersBlue, sE, "#111", 1);
leaders(eLeadersGreen, sE, "#111", 1);
drawBox(boxE);
txt(79, 715, "Sequence-specific transcription factors", { size: 13, bold: true });
txt(98, 736.5, "Human TF mRNA10x > Mouse", { size: 12 });
[["PPARA",87.7,749],["PPARG",105,761.7],["RUNX2",156.7,759],["EGR3",218,763],["CIITA",112,786.7],["NR4A2",171,775],["NR4A1",223,786.7]]
  .forEach(d => txt(d[1], d[2], d[0], { size: 13, italic: true, fill: blueText }));
[["CXXC5",286,894],["SALL2",212.7,931],["SMAD1",281.7,924],["SALL3",265,946.7]]
  .forEach(d => txt(d[1], d[2], d[0], { size: 13, italic: true, fill: greenText }));
txt(342.7, 957, "Mouse TF mRNA 10x > Human", { size: 12.2, rotate: true });
subTxt(212, 1013, "Mouse expression (log", " (TPM+1))", { size: 13.2, bold: true, anchor: "middle" });
subTxt(45, 848, "Mouse expression (log", " (TPM+1))", { size: 13.2, bold: true, anchor: "middle", rotate: true });

// F
const boxF = { l: 452.3, r: 727.7, t: 722.7, b: 976 };
const sF = scatterFrame(boxF, { d: [0, 8], r: [466.7, 697.3] }, { d: [0, 8], r: [960.7, 729.3] }, d3.range(0, 9), 5);
blobs([fSparseLow], sF, "#d8d8d8");
blobs([fSparseLeft], sF, "#e2e2e2");
blobs(fCores, sF, "#bfbfbf");
dots(fGray, sF, 1.8, "#bcbcbc");
dots(fGreen, sF, 1.8, "#16884a");
dots(fBlue, sF, 1.8, "#3a56a8");
leaders(fLeaderGray, sF, "#777", 1.4);
leaders(fLeadersBlack, sF, "#111", 1);
drawBox(boxF);
svg.append("circle").attr("cx", 466.3).attr("cy", 729.3).attr("r", 3).attr("fill", "#2d3f9a");
svg.append("circle").attr("cx", 718.3).attr("cy", 962.7).attr("r", 3.4).attr("fill", "#2fb457");
txt(452.5, 715.7, "Promoter H3K27ac", { size: 13, bold: true });
txt(472.3, 734.3, "Human mRNA10x > Mouse", { size: 12 });
[["A2M",458.3,749.3],["GLDN",492.7,749.3],["VSIG4",536.7,749.3],["APOC1",470,765.7],["SPP1",551.7,764.3],["SPARC",662.3,896.7],["SALL3",667.3,951]]
  .forEach(d => txt(d[1], d[2], d[0], { size: 13, italic: true, fill: "#111" }));
txt(721.7, 957, "Mouse mRNA 10x > Human", { size: 12.2, rotate: true });
subTxt(578, 1014, "Mouse promoter H3K27ac (log", " tags)", { size: 13.2, bold: true, anchor: "middle" });
subTxt(423, 847, "Human promoter H3K27ac (log", " tags)", { size: 13.2, bold: true, anchor: "middle", rotate: true });
</script>
</body>
</html>
